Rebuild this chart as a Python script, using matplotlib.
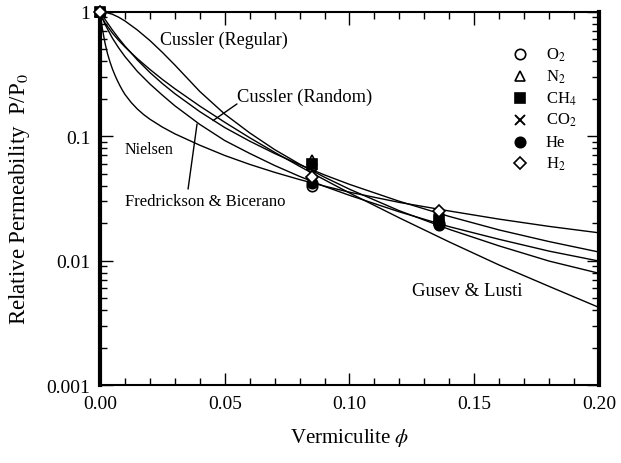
import matplotlib.pyplot as plt
from matplotlib.ticker import MultipleLocator, LogLocator, NullFormatter

# volume fraction grid and model curves
phi = [0.0, 0.001, 0.002, 0.005, 0.0075, 0.01, 0.015, 0.02, 0.025, 0.03, 0.04, 0.05,
       0.06, 0.07, 0.08, 0.09, 0.10, 0.12, 0.14, 0.16, 0.18, 0.20]
cussler_regular = [1.0, 0.997, 0.990, 0.950, 0.900, 0.840, 0.710, 0.585, 0.470, 0.372, 0.228, 0.150,
                   0.106, 0.0778, 0.0595, 0.0467, 0.0374, 0.0251, 0.0178, 0.0131, 0.0099, 0.0079]
cussler_random = [1.0, 0.929, 0.866, 0.709, 0.609, 0.528, 0.408, 0.324, 0.264, 0.219, 0.157, 0.117,
                  0.0910, 0.0724, 0.0589, 0.0487, 0.0409, 0.0299, 0.0226, 0.0176, 0.0142, 0.0117]
fred_bicerano = [1.0, 0.88, 0.79, 0.61, 0.51, 0.435, 0.330, 0.262, 0.213, 0.175, 0.124, 0.092,
                 0.0725, 0.0580, 0.0474, 0.0394, 0.0334, 0.0246, 0.0187, 0.0148, 0.0119, 0.0099]
gusev_lusti = [1.0, 0.880, 0.812, 0.670, 0.587, 0.520, 0.418, 0.343, 0.285, 0.240, 0.174, 0.129,
               0.0969, 0.0740, 0.0571, 0.0445, 0.0349, 0.0220, 0.0141, 0.0092, 0.0062, 0.0042]

# Nielsen drops fast near zero, read on a finer grid there
phi_nielsen = [0.0, 0.001, 0.002, 0.003, 0.004, 0.005, 0.006, 0.007, 0.008, 0.009, 0.010,
               0.0125, 0.015, 0.0175, 0.02, 0.025, 0.03, 0.04, 0.05, 0.06, 0.07, 0.08,
               0.09, 0.10, 0.12, 0.14, 0.16, 0.18, 0.20]
nielsen = [1.0, 0.719, 0.560, 0.460, 0.394, 0.345, 0.308, 0.278, 0.2535, 0.233, 0.216,
           0.186, 0.1646, 0.1488, 0.1365, 0.118, 0.1042, 0.0844, 0.0698, 0.0592, 0.0511, 0.0447,
           0.0396, 0.0354, 0.0293, 0.0250, 0.0215, 0.0188, 0.0167]

# measured gases
phi_data = [0.0, 0.085, 0.136]
gases = ['O$_2$', 'N$_2$', 'CH$_4$', 'CO$_2$', 'He', 'H$_2$']
o2 = [1.0, 0.040, 0.0200]
n2 = [1.0, 0.064, 0.0228]
ch4 = [1.0, 0.060, 0.0210]
co2 = [1.0, 0.050, 0.0220]
he = [1.0, 0.042, 0.0193]
h2 = [1.0, 0.047, 0.0250]

plt.rcParams['font.family'] = ['Liberation Serif', 'DejaVu Serif']
plt.rcParams['mathtext.fontset'] = 'stix'

fig, ax = plt.subplots(figsize=(6.21, 4.64), dpi=100)
fig.subplots_adjust(left=0.161, right=0.9646, top=0.973, bottom=0.168)

ax.plot(phi_nielsen, nielsen, color='black', lw=1.0)
for vals in [cussler_regular, cussler_random, fred_bicerano, gusev_lusti]:
    ax.plot(phi, vals, color='black', lw=1.0)

styles = [dict(marker='o', mfc='white', ms=7.5, mew=1.2),
          dict(marker='^', mfc='white', ms=7.5, mew=1.2),
          dict(marker='s', mfc='black', ms=7, mew=1.2),
          dict(marker='x', mfc='black', ms=7, mew=1.4),
          dict(marker='o', mfc='black', ms=7.5, mew=1.2),
          dict(marker='D', mfc='white', ms=6.5, mew=1.2)]
for vals, st in zip([o2, n2, ch4, co2, he, h2], styles):
    ax.plot(phi_data, vals, ls='none', mec='black', clip_on=False, zorder=5, **st)

# legend drawn by hand
for i, (g, st) in enumerate(zip(gases, styles)):
    yy = 0.886 - 0.0585 * i
    ax.plot([0.841], [yy], transform=ax.transAxes, ls='none', mec='black', **st)
    ax.text(0.893, yy, g, transform=ax.transAxes, va='center', ha='left', fontsize=12)

ax.set_xlim(0, 0.2)
ax.set_yscale('log')
ax.set_ylim(0.001, 1)
ax.xaxis.set_minor_locator(MultipleLocator(0.01))
ax.set_xticks([0.0, 0.05, 0.10, 0.15, 0.20])
ax.set_xticklabels(['0.00', '0.05', '0.10', '0.15', '0.20'])
ax.set_yticks([0.001, 0.01, 0.1, 1])
ax.set_yticklabels(['0.001', '0.01', '0.1', '1'])
ax.yaxis.set_minor_locator(LogLocator(base=10, subs=range(2, 10)))
ax.yaxis.set_minor_formatter(NullFormatter())
ax.tick_params(which='both', direction='in', top=True, right=True, width=1, labelsize=14)
ax.tick_params(which='major', length=9, pad=7)
ax.tick_params(which='minor', length=5)
for s in ['left', 'right']:
    ax.spines[s].set_linewidth(3)
for s in ['top', 'bottom']:
    ax.spines[s].set_linewidth(1.5)

ax.set_xlabel('Vermiculite $\\phi$', fontsize=15, labelpad=10)
ax.set_ylabel('Relative Permeability  P/P$_0$', fontsize=16.5, labelpad=10)

ax.text(0.024, 0.60, 'Cussler (Regular)', fontsize=13, va='center')
ax.text(0.055, 0.21, 'Cussler (Random)', fontsize=13.3, va='center')
ax.text(0.010, 0.079, 'Nielsen', fontsize=11.5, va='center')
ax.text(0.010, 0.030, 'Fredrickson & Bicerano', fontsize=12, va='center')
ax.text(0.125, 0.0057, 'Gusev & Lusti', fontsize=13.5, va='center')
ax.annotate('', xy=(0.0453, 0.133), xytext=(0.0549, 0.181),
            arrowprops=dict(arrowstyle='-', lw=1.0, shrinkA=0, shrinkB=0))
ax.annotate('', xy=(0.0389, 0.125), xytext=(0.0353, 0.0375),
            arrowprops=dict(arrowstyle='-', lw=1.0, shrinkA=0, shrinkB=0))

plt.savefig('out.png', dpi=100)
